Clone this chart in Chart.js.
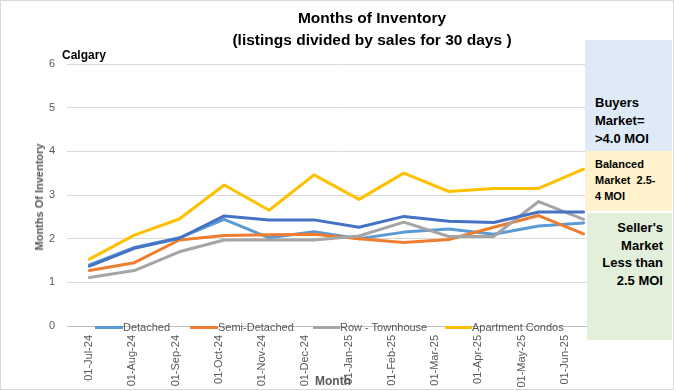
<!DOCTYPE html>
<html>
<head>
<meta charset="utf-8">
<script src="https://cdn.jsdelivr.net/npm/chart.js@4"></script>
<style>
  html, body { margin: 0; padding: 0; background: #fff; }
  #wrap { position: relative; width: 674px; height: 391px; overflow: hidden; font-family: "Liberation Sans", Arial, sans-serif; }
  #c { position: absolute; left: 0; top: 0; }
  .abs { position: absolute; }
  .frame { left: 0; top: 0; width: 672px; height: 388px; border: 1px solid #d9d9d9; pointer-events: none; }
  .title { left: 0; width: 744px; top: 7px; text-align: center; font-weight: bold; font-size: 15.5px; line-height: 22px; color: #000; }
  .city { left: 62px; top: 48px; font-weight: bold; font-size: 12px; color: #000; }
  .ytitle { left: 39px; top: 197px; transform: translate(-50%, -50%) rotate(-90deg); white-space: nowrap; font-weight: bold; font-size: 11px; color: #595959; }
  .xtitle { left: 333px; top: 381px; transform: translate(-50%, -50%); font-weight: bold; font-size: 12px; color: #595959; }
  .legend { top: 320px; height: 14px; font-size: 11px; color: #595959; white-space: nowrap; }
  .legend span.sw { position: absolute; top: 6px; height: 3px; }
  .legend span.tx { position: absolute; top: 0; line-height: 14px; }
  .box { font-weight: bold; color: #000; box-sizing: border-box; }
  .buy { left: 585px; top: 40px; width: 87px; height: 111px; background: #DEEBF7; font-size: 13px; line-height: 18px; padding: 54px 0 0 10px; }
  .bal { left: 585px; top: 151px; width: 87px; height: 60px; background: #FFF2CC; font-size: 11px; line-height: 16px; padding: 5px 0 0 10px; }
  .sel { left: 587px; top: 213px; width: 85px; height: 127px; background: #E2EFDA; font-size: 13px; line-height: 17.7px; padding: 6px 9px 0 0; text-align: right; }
</style>
</head>
<body>
<div id="wrap">
  <canvas id="c" width="674" height="391"></canvas>
  <div class="abs title">Months of Inventory<br>(listings divided by sales for 30 days )</div>
  <div class="abs city">Calgary</div>
  <div class="abs ytitle">Months Of Inventory</div>
  <div class="abs xtitle">Month</div>
  <div class="abs legend" id="legend" style="left:0;width:674px;"></div>
  <div class="abs box buy">Buyers<br>Market=<br>&gt;4.0 MOI</div>
  <div class="abs box bal">Balanced<br>Market&nbsp; 2.5-<br>4 MOI</div>
  <div class="abs box sel">Seller's<br>Market<br>Less than<br>2.5 MOI</div>
  <div class="abs frame"></div>
</div>
<script>
const months = ["01-Jul-24","01-Aug-24","01-Sep-24","01-Oct-24","01-Nov-24","01-Dec-24","01-Jan-25","01-Feb-25","01-Mar-25","01-Apr-25","01-May-25","01-Jun-25"];
const detached      = [1.40, 1.80, 2.02, 2.44, 2.02, 2.16, 2.00, 2.15, 2.22, 2.10, 2.29, 2.36];
const semiDetached  = [1.27, 1.45, 1.97, 2.07, 2.09, 2.10, 2.00, 1.91, 1.98, 2.26, 2.53, 2.11];
const rowTownhouse  = [1.11, 1.27, 1.70, 1.97, 1.97, 1.97, 2.06, 2.38, 2.05, 2.05, 2.85, 2.44];
const apartmentCondos = [1.53, 2.08, 2.45, 3.23, 2.65, 3.46, 2.90, 3.50, 3.08, 3.15, 3.15, 3.59];
const allTypes      = [1.37, 1.78, 2.01, 2.52, 2.43, 2.43, 2.26, 2.51, 2.40, 2.37, 2.61, 2.61];
const yTicks = [0, 1, 2, 3, 4, 5, 6];

const seriesNames = ["Detached", "Semi-Detached", "Row - Townhouse", "Apartment Condos"];
const colors = ["#5B9BD5", "#ED7D31", "#A5A5A5", "#FFC000", "#4472C4"];

function ds(label, data, color, order) {
  return { label, data, borderColor: color, backgroundColor: color, borderWidth: 3, pointRadius: 0, tension: 0, fill: false, order, borderJoinStyle: 'round', borderCapStyle: 'round', xAxisID: 'x', yAxisID: 'y' };
}

new Chart(document.getElementById('c'), {
  type: 'line',
  data: {
    labels: months,
    datasets: [
      ds(seriesNames[0], detached, colors[0], 4),
      ds(seriesNames[1], semiDetached, colors[1], 3),
      ds(seriesNames[2], rowTownhouse, colors[2], 2),
      ds(seriesNames[3], apartmentCondos, colors[3], 1),
      ds("All", allTypes, colors[4], 0)
    ]
  },
  options: {
    responsive: false,
    animation: false,
    devicePixelRatio: 1,
    layout: { padding: { top: 64, right: 68, left: 0, bottom: 0 } },
    plugins: { legend: { display: false }, title: { display: false }, tooltip: { enabled: false } },
    scales: {
      y: {
        min: 0, max: 6,
        afterBuildTicks: s => { s.ticks = yTicks.map(v => ({ value: v })); },
        afterFit: s => { s.width = 67; },
        ticks: { color: '#595959', font: { family: 'Liberation Sans', size: 11 }, padding: 12 },
        grid: { color: '#d9d9d9', drawTicks: false, lineWidth: 1 },
        border: { display: false }
      },
      x: {
        display: false,
        offset: true
      },
      xl: {
        type: 'linear',
        position: 'bottom',
        min: -0.508, max: 11.948,
        afterBuildTicks: s => { s.ticks = months.map((m, i) => ({ value: i })); },
        afterFit: s => { s.height = 65; },
        ticks: {
          callback: v => months[v],
          color: '#595959', font: { family: 'Liberation Sans', size: 11 },
          maxRotation: 90, minRotation: 90, autoSkip: false, padding: 9
        },
        grid: { drawOnChartArea: false, drawTicks: false },
        border: { color: '#bfbfbf' }
      }
    }
  }
});

const legend = document.getElementById('legend');
const legendPos = [[95, 123], [190, 218], [313, 340], [445, 472]];
seriesNames.forEach((name, i) => {
  const sw = document.createElement('span');
  sw.className = 'sw';
  sw.style.left = legendPos[i][0] + 'px';
  sw.style.width = (legendPos[i][1] - legendPos[i][0]) + 'px';
  sw.style.background = colors[i];
  const tx = document.createElement('span');
  tx.className = 'tx';
  tx.style.left = legendPos[i][1] + 'px';
  tx.textContent = name;
  legend.appendChild(sw);
  legend.appendChild(tx);
});
</script>
</body>
</html>
